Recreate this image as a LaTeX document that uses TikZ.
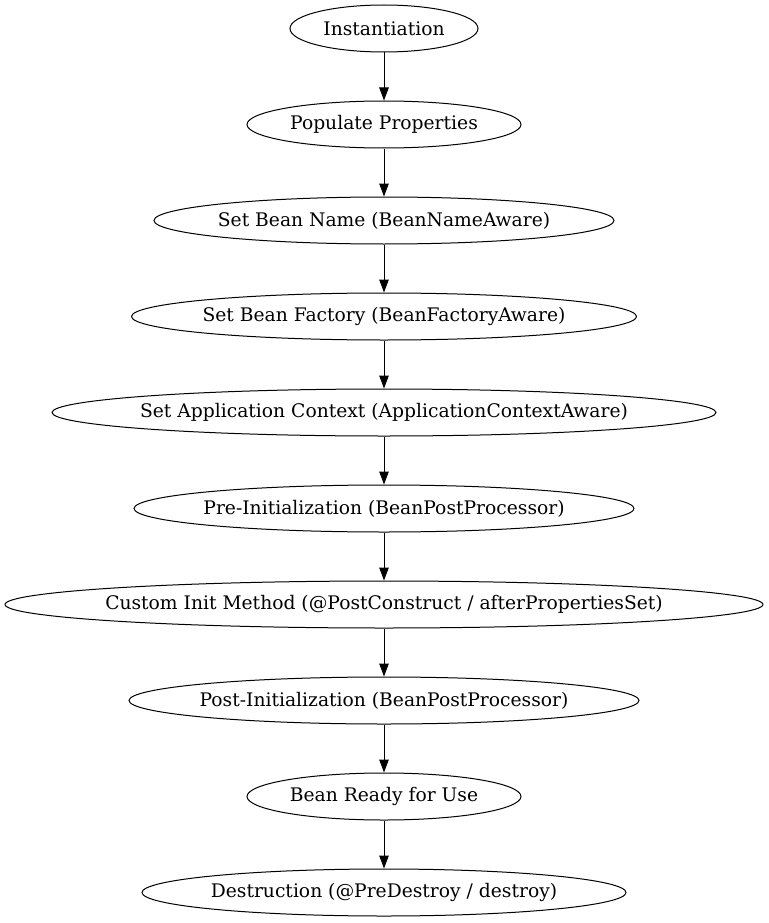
\documentclass[tikz,border=0pt]{standalone}
\usepackage{fontspec}
\setmainfont{DejaVu Serif}
\usetikzlibrary{shapes.geometric,arrows.meta}
\newcommand{\lbltxt}[1]{\makebox[0pt]{#1}}
\begin{document}
\begin{tikzpicture}[x=1pt,y=-1pt,
  stage/.style={draw=black,ellipse,inner sep=0pt,minimum height=47pt,line width=1pt,font=\fontsize{18.7}{20}\selectfont},
  flow/.style={draw=black,line width=1pt,-{Triangle[length=13pt,width=9.5pt]}}]
\useasboundingbox (0,0) rectangle (768,923);
\node[stage,minimum width=188pt] (n1) at (384,28.5) {\lbltxt{Instantiation}};
\node[stage,minimum width=274pt] (n2) at (384,124.5) {\lbltxt{Populate Properties}};
\node[stage,minimum width=460pt] (n3) at (384,220.5) {\lbltxt{Set Bean Name (BeanNameAware)}};
\node[stage,minimum width=505pt] (n4) at (384,316.5) {\lbltxt{Set Bean Factory (BeanFactoryAware)}};
\node[stage,minimum width=664pt] (n5) at (384,412.5) {\lbltxt{Set Application Context (ApplicationContextAware)}};
\node[stage,minimum width=500pt] (n6) at (384,508.5) {\lbltxt{Pre-Initialization (BeanPostProcessor)}};
\node[stage,minimum width=758pt] (n7) at (384,604.5) {\lbltxt{Custom Init Method (@PostConstruct / afterPropertiesSet)}};
\node[stage,minimum width=510pt] (n8) at (384,700.5) {\lbltxt{Post-Initialization (BeanPostProcessor)}};
\node[stage,minimum width=274pt] (n9) at (384,796.5) {\lbltxt{Bean Ready for Use}};
\node[stage,minimum width=484pt] (n10) at (384,892.5) {\lbltxt{Destruction (@PreDestroy / destroy)}};
\foreach \a/\b in {n1/n2,n2/n3,n3/n4,n4/n5,n5/n6,n6/n7,n7/n8,n8/n9,n9/n10}
  \draw[flow] (\a) -- (\b);
\end{tikzpicture}
\end{document}
